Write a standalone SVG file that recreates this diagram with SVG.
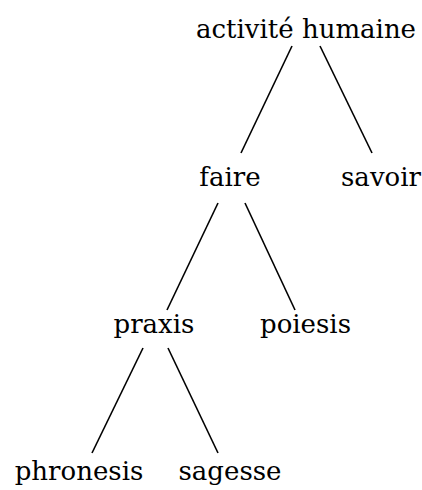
<svg xmlns="http://www.w3.org/2000/svg" width="422" height="490" viewBox="0 0 422 490">
<style>
text{font-family:"DejaVu Serif","Liberation Serif",serif;font-size:26px;fill:#000;text-anchor:middle}
.e line{stroke:#000;stroke-width:1.6;stroke-linecap:butt}
</style>
<rect width="422" height="490" fill="#fff"/>
<g class="e" id="edges">
<line x1="292" y1="46" x2="241" y2="153"/>
<line x1="320" y1="46" x2="372" y2="153"/>
<line x1="218" y1="203" x2="167" y2="310"/>
<line x1="245" y1="203" x2="295" y2="310"/>
<line x1="143" y1="348" x2="92" y2="453"/>
<line x1="168" y1="348" x2="218" y2="453"/>
</g>
<g id="n-activite"><text x="306" y="38">activité humaine</text></g>
<g id="n-faire"><text x="230" y="186">faire</text></g>
<g id="n-savoir"><text x="381" y="186">savoir</text></g>
<g id="n-praxis"><text x="154" y="333">praxis</text></g>
<g id="n-poiesis"><text x="305.5" y="333">poiesis</text></g>
<g id="n-phronesis"><text x="79" y="480">phronesis</text></g>
<g id="n-sagesse"><text x="230" y="480">sagesse</text></g>
</svg>
